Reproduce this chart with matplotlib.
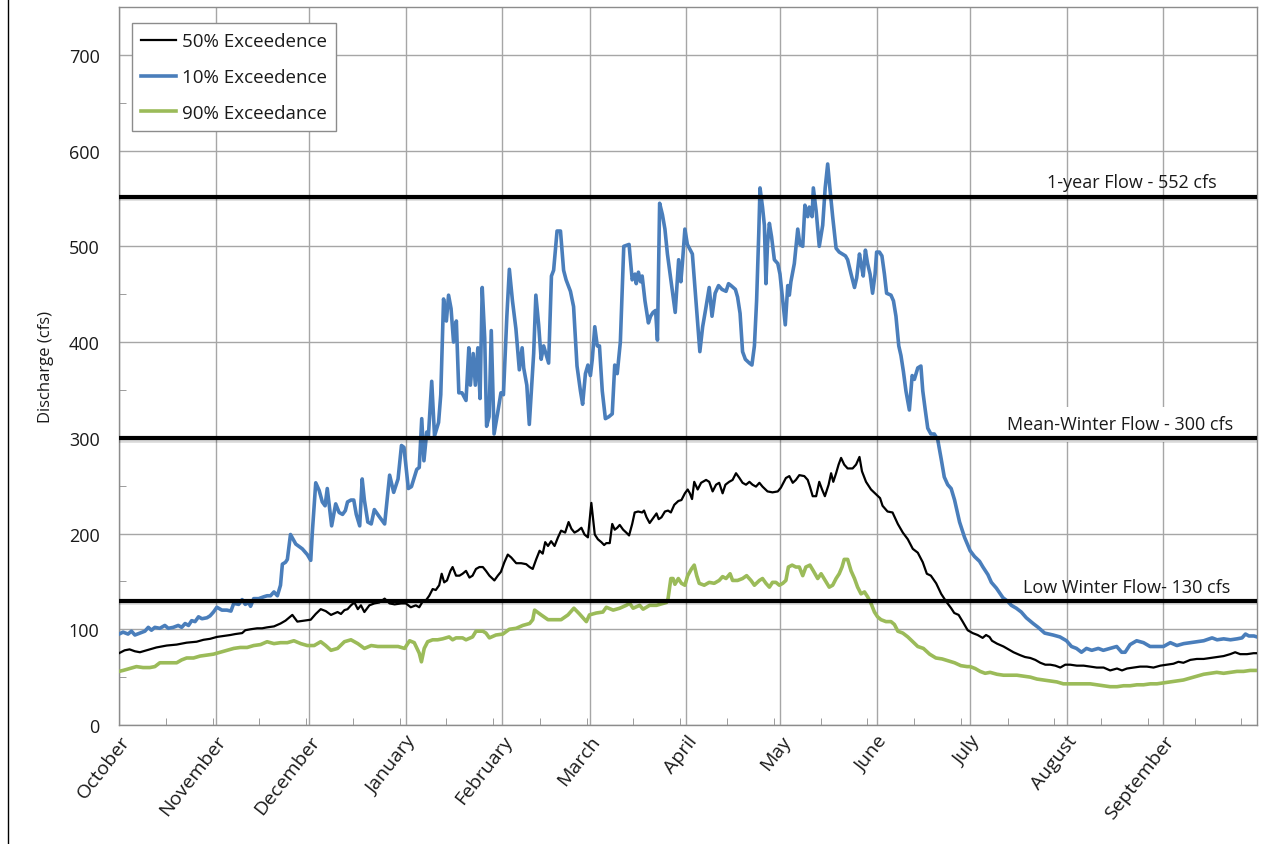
import numpy as np
import matplotlib
matplotlib.use('Agg')
import matplotlib.pyplot as plt
import matplotlib.patheffects as pe
from matplotlib.lines import Line2D

# day of water year (0 = Oct 1) and discharge in cfs
blue_day = [0, 1.3, 2.9, 4, 5.1, 6.7, 8.3, 9.4, 10.4, 11.5, 13.1, 14.7, 15.8, 17.4, 19, 20.1, 21.2, 22.3, 23.3,
            24.4, 25.5, 26.6, 28.2, 29.2, 30.3, 31.4, 33, 34.6, 35.9, 36.8, 38.4, 39.5, 40.5, 41.6, 42.2, 43.2,
            44.8, 46.5, 47.5, 48.6, 49.7, 50.8, 51.8, 52.4, 53.4, 54, 55, 56.7, 58.8, 60.4, 61.5, 62, 63.1, 64.2,
            65.2, 66.1, 66.8, 68.2, 69.5, 70.6, 71.7, 72.6, 73.3, 74.4, 75.3, 76.1, 77.2, 78, 78.7, 79.8, 80.9,
            81.9, 83.4, 85.2, 86.8, 88.1, 89.5, 90.6, 91.4, 92.8, 93.8, 95.5, 96.3, 97.1, 97.8, 98.7, 99.2, 100.3,
            101.2, 102.5, 103.2, 104.1, 105, 105.7, 106.5, 107.3, 108.2, 109, 110, 111.3, 112.2, 112.7, 113.6,
            114.3, 115.1, 115.8, 116.5, 117.3, 117.9, 118.7, 119.4, 120.3, 121.4, 122.5, 123.3, 124.4, 125.2,
            126.2, 127.3, 128.4, 129.3, 129.8, 130.8, 131.6, 132.4, 133, 133.7, 134.6, 135.4, 136.2, 136.9, 137.8,
            138.7, 139.4, 140.5, 141.6, 142.6, 143.4, 144.8, 145.8, 146.9, 148, 148.7, 149.6, 150.4, 151.2, 151.8,
            152.6, 153.4, 154.1, 155, 156, 157.1, 158.2, 159, 159.8, 160.8, 161.9, 163.6, 164.6, 165.5, 165.9,
            166.6, 167.3, 167.8, 168.7, 169.8, 170.5, 171.3, 172.1, 172.7, 173.4, 174.3, 175.1, 175.9, 177, 178.4,
            179.5, 180.2, 180.7, 181.5, 182.3, 183.9, 185, 186.3, 187.2, 188.2, 189.3, 190.2, 191.2, 192.3, 193.4,
            194.7, 195.5, 196.3, 197.7, 198.4, 199.2, 200, 200.9, 202.2, 203, 203.8, 204.5, 205.2, 205.6, 206.4,
            207, 207.5, 208, 208.6, 209.3, 210.2, 211.3, 212, 212.9, 213.7, 214.5, 215, 215.5, 216.6, 217.7, 218.4,
            219.3, 220, 220.9, 221.4, 222.3, 222.7, 223.6, 224.6, 225.7, 226.5, 227.3, 228, 228.9, 230, 231, 233,
            233.7, 234.8, 235.9, 236.6, 237.5, 238, 238.7, 239.4, 240.1, 240.9, 241.7, 242.5, 243, 243.9, 244.7,
            245.5, 246.2, 247.6, 248.4, 249.2, 250.1, 250.8, 251.6, 252.4, 253.5, 254.4, 255.1, 256.2, 257.2,
            257.8, 258.6, 259.4, 260.4, 261.5, 262.6, 263.7, 264.7, 265.8, 266.9, 268, 269.6, 271.2, 273, 274.4,
            276, 277.1, 278.7, 279.8, 281.4, 283.5, 285.1, 286.2, 287.8, 289.4, 291, 293.2, 294.8, 296.9, 299.6,
            301.8, 303.9, 305.5, 307.1, 308.7, 310.3, 312, 314.1, 315.7, 317.8, 320, 321.6, 322.7, 324.3, 326.4,
            328.6, 330.7, 332.9, 335, 337.2, 339.3, 341.5, 343.6, 345.7, 347.9, 350.6, 352.2, 354.3, 356.5, 358.6,
            360.2, 361.3, 362.4, 364, 365]
blue_cfs = [95, 97, 95, 98, 94, 96, 98, 102, 99, 102, 101, 104, 101, 102, 104, 102, 106, 104, 109,
            108, 113, 111, 112, 114, 118, 123, 120, 120, 119, 127, 126, 131, 126, 128, 124, 132,
            132, 134, 135, 135, 139, 135, 146, 168, 170, 173, 199, 189, 184, 178, 172, 201, 253, 245,
            233, 229, 247, 208, 231, 222, 220, 224, 233, 235, 235, 220, 208, 257, 235, 212, 210,
            225, 218, 210, 261, 243, 257, 292, 290, 247, 249, 267, 269, 320, 276, 306, 300, 359,
            302, 316, 345, 445, 422, 449, 435, 400, 422, 347, 347, 339, 394, 355, 388,
            355, 394, 341, 457, 404, 312, 322, 412, 304, 325, 347, 345, 427, 476,
            443, 414, 371, 394, 373, 355, 314, 357, 388, 449, 418, 382, 396, 388, 378,
            469, 475, 516, 516, 475, 465, 453, 437, 375, 349, 335, 367, 376, 365, 382,
            416, 396, 396, 349, 320, 322, 325, 376, 367, 400, 500, 502, 465, 471, 461,
            473, 463, 469, 443, 420, 427, 431, 433, 402, 545, 533, 518, 492, 465, 431,
            486, 463, 482, 518, 502, 492, 445, 390, 416, 435, 457, 427, 451, 459, 455,
            453, 461, 459, 455, 447, 430, 390, 382, 378, 376, 396, 443, 514, 561, 541,
            522, 461, 502, 524, 510, 486, 482, 471, 443, 418, 459, 449, 463, 482, 518, 502,
            500, 543, 531, 541, 531, 561, 537, 500, 522, 561, 586, 561, 531, 498, 494, 490,
            486, 471, 457, 467, 492, 482, 469, 496, 482, 471, 451, 471, 494, 494, 490,
            471, 451, 449, 443, 427, 396, 386, 369, 349, 329, 365, 361, 373, 375,
            349, 329, 310, 304, 304, 298, 278, 259, 251, 247, 235, 212, 196, 182, 176,
            171, 165, 157, 149, 143, 133, 129, 125, 122, 118, 112, 106, 102, 96, 94,
            92, 88, 82, 80, 76, 80, 78, 80, 78, 80, 82, 76, 76, 84, 88,
            86, 82, 82, 82, 86, 83, 85, 86, 87, 88, 91, 89, 90, 89, 90,
            91, 95, 93, 93, 92]

black_day = [0, 1.8, 3.4, 5.1, 6.7, 8.8, 12, 15.3, 18.5, 21.7, 24.9, 27.1, 29.2, 31.4, 33.5, 35.7, 37.3, 39.5,
             40.5, 42.2, 44.3, 45.9, 47.5, 49.7, 51.8, 53.4, 55.6, 57.2, 59.4, 61.5, 63.1, 64.7, 66.3, 68, 70.1,
             71.2, 72.3, 73.3, 74.4, 75.5, 76.6, 77.6, 78.7, 80.3, 81.9, 83.5, 85.2, 86.8, 88.4, 90.5, 92, 93.6,
             95.2, 96.3, 97.4, 98.4, 99.5, 100.6, 101.6, 102.7, 103.5, 104.3, 105.2, 106.3, 107, 108.1, 109.2,
             110.2, 111.3, 112.4, 113.4, 114.5, 115.6, 116.7, 117.7, 118.8, 120.4, 121.5, 122.5, 123.6, 124.7,
             125.8, 127.4, 129, 130.6, 131.7, 132.7, 133.8, 134.9, 135.9, 136.7, 137.6, 138.6, 139.7, 140.8,
             141.8, 143.1, 144.2, 145.1, 146.1, 147.2, 148.3, 149.3, 150.4, 151.5, 152.6, 153.6, 154.7, 155.6,
             156.3, 157.4, 158.2, 159, 159.8, 160.6, 161.7, 162.7, 163.6, 164.6, 165.4, 166.5, 167.8, 168.4,
             169.2, 170.2, 171.3, 172.4, 173.1, 174, 175.1, 176.1, 177, 178.1, 179.4, 180.4, 181.5, 182.4, 183.1,
             183.8, 184.5, 185.6, 186.7, 188.3, 189.3, 190.4, 191.5, 192.5, 193.6, 194.5, 195.7, 196.8, 197.9,
             199, 200, 201.1, 202.2, 203.2, 204.3, 205.4, 206.4, 208, 209.6, 211.3, 212.3, 213.9, 215, 216.1,
             217.1, 218.2, 219.8, 220.9, 221.6, 222.5, 223.6, 224.6, 225.5, 226.4, 227.6, 228.4, 229.1, 230,
             230.8, 231.6, 232.6, 233.7, 235.3, 236.4, 237.5, 238.3, 239.6, 241.2, 242.8, 244.1, 244.9, 246.5,
             248.1, 249.8, 251.4, 253, 254.6, 256.2, 257.8, 259.1, 260.4, 262.1, 263.7, 265.3, 266.9, 267.9,
             269.3, 270.6, 272.2, 273.8, 275.4, 277, 278.1, 279.2, 280, 281.6, 283.7, 285.3, 286.9, 289, 290.6,
             292.3, 293.9, 295.5, 297.1, 298.7, 300.3, 301.9, 303.5, 305.1, 307.2, 309.4, 311.5, 313.6, 315.8,
             317.9, 320.1, 321.7, 323.3, 325.4, 327.5, 329.7, 331.8, 334, 336.1, 338.2, 339.8, 341.4, 343.6,
             345.7, 347.9, 350, 352.1, 354.3, 356.4, 358, 359.6, 361.8, 363.9, 365]
black_cfs = [75, 78, 79, 77, 76, 78, 81, 83, 84, 86, 87, 89, 90, 92, 93, 94, 95, 96,
             99, 100, 101, 101, 102, 103, 106, 109, 115, 108, 109, 110, 116, 121, 119, 115, 118,
             116, 120, 121, 125, 128, 121, 125, 118, 125, 127, 128, 132, 127, 126, 127, 127, 123,
             125, 123, 129, 130, 135, 142, 141, 146, 158, 149, 151, 161, 165, 156, 156,
             158, 161, 154, 156, 163, 165, 165, 161, 156, 151, 156, 160, 170, 178,
             175, 169, 169, 168, 165, 163, 173, 182, 179, 191, 187, 192, 187, 196,
             203, 201, 212, 205, 201, 203, 206, 199, 196, 232, 199, 194, 191, 188,
             190, 190, 210, 204, 206, 209, 204, 201, 198, 210, 222, 223, 222, 224,
             217, 211, 216, 221, 215, 217, 223, 224, 222, 230, 234, 235, 242, 246, 242,
             236, 254, 246, 253, 256, 254, 244, 251, 253, 242, 251, 254, 256, 263,
             258, 253, 251, 254, 251, 249, 253, 249, 244, 243, 244, 248, 258, 260, 253,
             256, 261, 260, 256, 249, 239, 239, 254, 246, 239, 251, 263, 254, 263,
             272, 279, 272, 268, 268, 272, 280, 265, 254, 246, 241, 237, 229, 223,
             222, 210, 201, 194, 184, 180, 170, 158, 156, 148, 137, 129, 122, 117,
             115, 108, 99, 96, 94, 91, 94, 92, 88, 85, 82, 79, 76, 73, 71,
             70, 68, 65, 63, 63, 62, 60, 63, 63, 62, 62, 61, 60, 60,
             57, 59, 57, 59, 60, 61, 61, 60, 62, 63, 64, 66, 65, 68,
             69, 69, 70, 71, 72, 74, 76, 74, 74, 75, 75]

green_day = [0, 1.3, 3.4, 5.6, 7.7, 9.9, 11.5, 13.1, 15.3, 18.5, 20.1, 21.7, 23.9, 26, 28.2, 30.3, 32.5, 34.6,
             36.8, 38.9, 41.1, 43.2, 45.4, 47.5, 49.7, 51.8, 54, 56.1, 58.3, 60.4, 62.6, 64.7, 66.3, 68, 70.1,
             72.3, 74.4, 76.6, 78.7, 80.9, 83, 85.2, 87.3, 89.5, 91.6, 93.2, 94.7, 96.3, 97, 97.9, 99, 100.6,
             102.2, 103.8, 104.9, 105.9, 107, 108.1, 110.2, 111.3, 113.4, 114.5, 116.7, 117.7, 118.8, 120.9,
             123.1, 125.2, 127.4, 129.5, 131.7, 132.7, 133.3, 135.4, 137.6, 139.7, 141.8, 144, 145.9, 147.7,
             149.9, 150.9, 153.1, 155.2, 156.3, 158.5, 160.6, 162.7, 163.8, 164.9, 167, 168.1, 170.2, 172.4,
             174.5, 175.6, 176.1, 177, 177.7, 178.3, 179.4, 180.4, 181.5, 182.4, 183.6, 184.5, 185.3, 186.1,
             187.7, 189.3, 190.9, 192.5, 193.6, 194.7, 196, 196.8, 198.4, 200, 201.3, 202.7, 203.8, 205.4, 206.4,
             207.5, 208.6, 209.6, 210.7, 211.8, 212.9, 213.9, 214.7, 215.9, 217.1, 218.2, 219.3, 220.3, 221.6,
             222.7, 224.1, 225.2, 226.5, 227.8, 228.9, 230, 231, 231.9, 232.6, 233.7, 234.8, 235.9, 236.9, 238,
             239.1, 240.1, 241.2, 242.3, 243.3, 244.4, 246, 247.6, 248.7, 249.8, 251.4, 253, 254.6, 256.2, 258,
             260, 262, 264, 266, 268, 270, 272, 273, 274.6, 276.2, 277.8, 279.4, 281.6, 283.7, 285.8, 288, 290.1,
             292.3, 294.4, 296.5, 298.7, 300.8, 302.9, 305.1, 307.2, 309.4, 311.5, 313.6, 315.8, 317.9, 320.1,
             322.2, 324.3, 326.5, 328.6, 330.8, 332.9, 335, 337.2, 339.3, 341.4, 343.6, 345.7, 347.9, 350,
             352.1, 354.3, 356.4, 358.6, 360.7, 362.8, 365]
green_cfs = [56, 57, 59, 61, 60, 60, 61, 65, 65, 65, 68, 70, 70, 72, 73, 74, 76, 78,
             80, 81, 81, 83, 84, 87, 85, 86, 86, 88, 85, 83, 83, 87, 83, 78, 80,
             87, 89, 85, 80, 83, 82, 82, 82, 82, 80, 88, 86, 75, 66, 80, 87, 89,
             89, 90, 91, 92, 89, 91, 91, 89, 92, 98, 98, 96, 91, 94,
             95, 100, 101, 104, 106, 110, 120, 115, 110, 110, 110, 115, 122, 116,
             108, 115, 117, 118, 123, 120, 122, 125, 127, 122, 125, 121, 125, 125,
             127, 128, 132, 153, 153, 147, 153, 148, 146, 156, 163, 167, 156, 148,
             146, 149, 148, 151, 155, 153, 158, 151, 151, 153, 156, 151, 146, 151, 153,
             148, 144, 149, 149, 146, 148, 151, 165, 167, 165, 165, 156, 165, 167,
             161, 153, 158, 151, 144, 146, 153, 158, 165, 173, 173, 161, 153, 144, 137,
             139, 134, 127, 118, 113, 110, 108, 108, 105, 98, 96, 92, 87, 82, 80,
             74, 70, 69, 67, 65, 62, 61, 61, 59, 56, 54, 55, 53, 52, 52, 52, 51,
             50, 48, 47, 46, 45, 43, 43, 43, 43, 43, 42, 41, 40, 40,
             41, 41, 42, 42, 43, 43, 44, 45, 46, 47, 49, 51, 53, 54,
             55, 54, 55, 56, 56, 57, 57]

month_start = [0, 31, 61, 92, 123, 151, 182, 212, 243, 273, 304, 335]
month_names = ['October', 'November', 'December', 'January', 'February', 'March', 'April',
               'May', 'June', 'July', 'August', 'September']

ref_levels = [552, 300, 130]
ref_labels = ['1-year Flow - 552 cfs', 'Mean-Winter Flow - 300 cfs', 'Low Winter Flow- 130 cfs']

plt.rcParams['font.family'] = ['Open Sans', 'DejaVu Sans']

fig = plt.figure(figsize=(12.82, 8.45), dpi=100)
ax = fig.add_axes([119 / 1282, 1 - 726 / 845, (1257 - 119) / 1282, (726 - 8) / 845])

grid_c = '#a6a6a6'
txt_c = '#1a1a1a'
ax.set_xlim(0, 365)
ax.set_ylim(0, 750)
ax.set_xticks(month_start)
ax.set_xticks(np.arange(15, 365, 15), minor=True)
ax.set_yticks(np.arange(0, 701, 100))
ax.set_yticks(np.arange(50, 751, 100), minor=True)
ax.grid(True, which='major', color=grid_c, linewidth=1.0, zorder=0)
ax.set_axisbelow(True)
for s in ax.spines.values():
    s.set_color('#8c8c8c')
    s.set_linewidth(1.0)
ax.tick_params(axis='both', which='both', direction='in', color='#8c8c8c')
ax.tick_params(axis='x', which='major', length=0, pad=5)
ax.tick_params(axis='x', which='minor', length=5)
ax.tick_params(axis='y', which='major', length=0, pad=14, labelsize=13, labelcolor=txt_c)
ax.tick_params(axis='y', which='minor', length=5)

ax.set_xticklabels(month_names, rotation=52, ha='right', va='top', rotation_mode='anchor',
                   fontsize=14, color=txt_c)
ax.set_ylabel('Discharge (cfs)', fontsize=12, color=txt_c)
ax.yaxis.set_label_coords(-0.057, 0.5)

ax.plot(black_day, black_cfs, color='black', linewidth=1.6, label='50% Exceedence', zorder=4)
ax.plot(blue_day, blue_cfs, color='#4a7ebb', linewidth=2.6, label='10% Exceedence', zorder=3)
ax.plot(green_day, green_cfs, color='#9bbb59', linewidth=2.6, label='90% Exceedance', zorder=3)

shadow = [pe.SimpleLineShadow(offset=(0.6, -1.4), shadow_color='black', alpha=0.15, linewidth=4),
          pe.Normal()]
for lvl in ref_levels:
    ax.axhline(lvl, color='black', linewidth=3, zorder=5, path_effects=shadow)


def px_to_day(x_px):
    return (x_px - 119) / (1257 - 119) * 365


# labels sit just above their lines, right-aligned near the right edge
ax.text(px_to_day(1217), 567, ref_labels[0], fontsize=13, ha='right', va='center', color=txt_c)
ax.text(px_to_day(1233), 314, ref_labels[1], fontsize=13, ha='right', va='center', color=txt_c,
        bbox=dict(boxstyle='square,pad=0.45', facecolor='white', edgecolor='none'))
ax.text(px_to_day(1230), 144, ref_labels[2], fontsize=13, ha='right', va='center', color=txt_c)

leg = ax.legend(loc='upper left', bbox_to_anchor=((132 - 119) / 1138, (726 - 24) / 718), borderaxespad=0,
                fontsize=13.5, frameon=True, fancybox=False, edgecolor='#8c8c8c', framealpha=1,
                handlelength=1.85, handletextpad=0.3, labelspacing=0.95, borderpad=0.5)
leg.get_frame().set_linewidth(1.0)
for t in leg.get_texts():
    t.set_color(txt_c)

fig.add_artist(Line2D([8 / 1282, 8 / 1282], [0, 1], color='black', linewidth=1.0))

fig.savefig('out.png', dpi=100)
